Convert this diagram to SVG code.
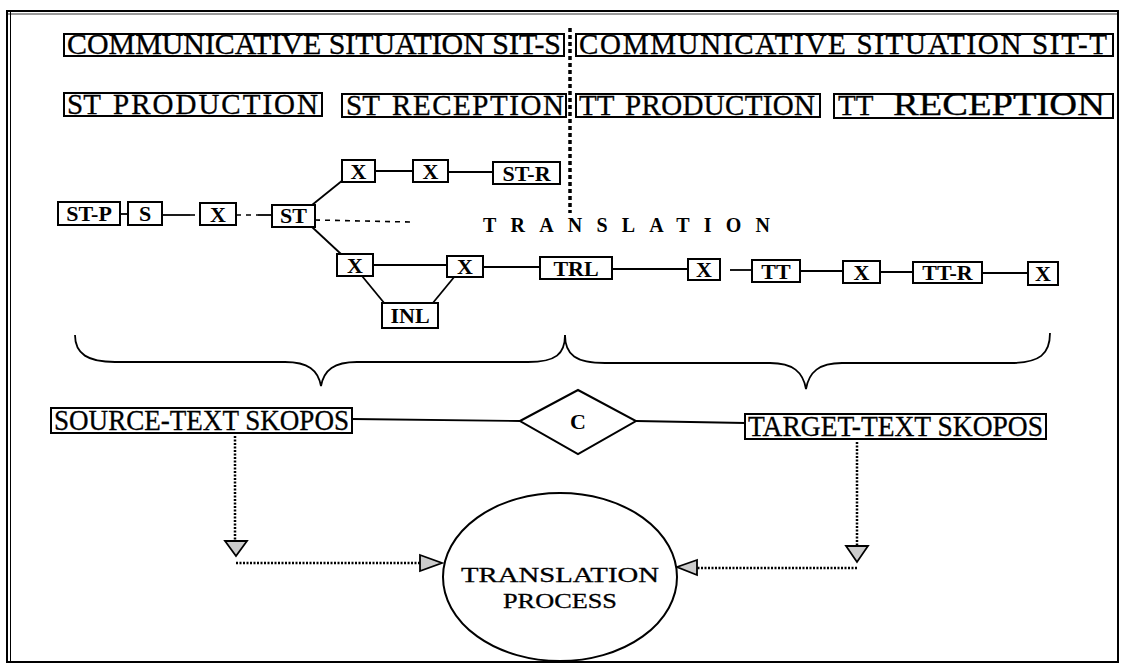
<svg xmlns="http://www.w3.org/2000/svg" width="1126" height="669" viewBox="0 0 1126 669">
<style>
.box{fill:#fff;stroke:#000;stroke-width:2}
.big{font-family:"Liberation Serif","Times New Roman",serif;font-size:29px;fill:#000;stroke:#000;stroke-width:0.3}
.lbl{font-family:"Liberation Serif","Times New Roman",serif;font-size:22px;font-weight:bold;fill:#000;text-anchor:middle}
.ln{stroke:#000;stroke-width:1.8;fill:none}
.dash{stroke:#000;stroke-width:1.6;fill:none;stroke-dasharray:5,5}
.dot{stroke:#000;stroke-width:2.5;fill:none;stroke-dasharray:2,1.5}
.vdot{stroke:#000;stroke-width:3.5;fill:none;stroke-dasharray:4,3}
.arr{fill:#ccc;stroke:#000;stroke-width:1.8}
.ell{font-family:"Liberation Serif","Times New Roman",serif;font-size:21px;fill:#000;stroke:#000;stroke-width:0.3;text-anchor:middle}
</style>
<rect x="0" y="0" width="1126" height="669" fill="#fff"/>
<g id="frame">
<rect x="7" y="11" width="1111" height="651" fill="none" stroke="#000" stroke-width="2"/>
<line x1="10.5" y1="11" x2="10.5" y2="662" stroke="#000" stroke-width="1"/>
<line x1="7" y1="14" x2="1118" y2="14" stroke="#000" stroke-width="0.8"/>
</g>
<g id="connectors">
<line class="vdot" x1="570" y1="28" x2="570" y2="213"/>
<line class="ln" x1="120" y1="214" x2="128" y2="214"/>
<line class="ln" x1="162" y1="215" x2="190" y2="215"/>
<line class="dash" x1="190" y1="215" x2="200" y2="215"/>
<line class="dash" x1="236" y1="215" x2="258" y2="215"/>
<line class="ln" x1="258" y1="215" x2="272" y2="215"/>
<line class="dash" x1="315" y1="220" x2="410" y2="222"/>
<line class="ln" x1="312" y1="205" x2="343" y2="180"/>
<line class="ln" x1="375" y1="171" x2="413" y2="171"/>
<line class="ln" x1="448" y1="172" x2="493" y2="172"/>
<line class="ln" x1="312" y1="227" x2="341" y2="254"/>
<line class="ln" x1="373" y1="265" x2="447" y2="265"/>
<line class="ln" x1="483" y1="267" x2="540" y2="267"/>
<line class="ln" x1="612" y1="269" x2="688" y2="269"/>
<line class="ln" x1="730" y1="270" x2="752" y2="270"/>
<line class="ln" x1="800" y1="271" x2="843" y2="271"/>
<line class="ln" x1="880" y1="272" x2="913" y2="272"/>
<line class="ln" x1="982" y1="273" x2="1028" y2="273"/>
<line class="ln" x1="362" y1="276" x2="385" y2="304"/>
<line class="ln" x1="432" y1="304" x2="455" y2="276"/>
<path class="ln" d="M75,335 C75,354 88,362 115,362 L285,362 C308,362 318,370 321,386 C324,370 334,362 357,362 L528,362 C556,362 565,354 565,335"/>
<path class="ln" d="M565,335 C565,355 576,363 605,363 L770,363 C793,363 803,372 806,389 C809,372 819,363 842,363 L1010,363 C1040,363 1050,354 1050,333"/>
<line class="ln" x1="352" y1="419" x2="520" y2="421"/>
<line class="ln" x1="636" y1="421" x2="745" y2="423"/>
<line class="dot" x1="235" y1="436" x2="235" y2="541"/>
<polygon class="arr" points="225,541 247,541 236,556"/>
<line class="dot" x1="236" y1="563" x2="420" y2="563"/>
<polygon class="arr" points="420,555 442,563 420,571"/>
<line class="dot" x1="857" y1="442" x2="857" y2="546"/>
<polygon class="arr" points="846,546 868,546 857,562"/>
<line class="dot" x1="857" y1="568" x2="697" y2="568"/>
<polygon class="arr" points="697,560 677,567 697,575"/>
</g>
<g id="sit-s"><rect class="box" x="64" y="34" width="500" height="22"/><text class="big" x="67" y="54" textLength="494" lengthAdjust="spacingAndGlyphs">COMMUNICATIVE SITUATION SIT-S</text></g>
<g id="sit-t"><rect class="box" x="576" y="34" width="537" height="22"/><text class="big" x="579" y="54" textLength="528" lengthAdjust="spacing">COMMUNICATIVE SITUATION SIT-T</text></g>
<g id="st-production"><rect class="box" x="64" y="93" width="258" height="23"/><text class="big" y="114"><tspan x="67">ST</tspan><tspan x="113" textLength="205" lengthAdjust="spacing">PRODUCTION</tspan></text></g>
<g id="st-reception"><rect class="box" x="342" y="94" width="224" height="23"/><text class="big" y="115"><tspan x="346">ST</tspan><tspan x="392" textLength="172" lengthAdjust="spacing">RECEPTION</tspan></text></g>
<g id="tt-production"><rect class="box" x="576" y="94" width="244" height="23"/><text class="big" y="115"><tspan x="579">TT</tspan><tspan x="625" textLength="190" lengthAdjust="spacing">PRODUCTION</tspan></text></g>
<g id="tt-reception"><rect class="box" x="834" y="94" width="279" height="24"/><text class="big" y="115"><tspan x="838">TT</tspan><tspan x="893" font-size="31" textLength="212" lengthAdjust="spacingAndGlyphs">RECEPTION</tspan></text></g>
<g id="st-p"><rect class="box" x="58" y="202" width="62" height="23"/><text class="lbl" x="89" y="221">ST-P</text></g>
<g id="s"><rect class="box" x="128" y="202" width="34" height="23"/><text class="lbl" x="145" y="221">S</text></g>
<g id="x1"><rect class="box" x="200" y="203" width="36" height="22"/><text class="lbl" x="218" y="222">X</text></g>
<g id="st"><rect class="box" x="272" y="205" width="43" height="22"/><text class="lbl" x="293.5" y="223">ST</text></g>
<g id="x-up1"><rect class="box" x="342" y="160" width="33" height="22"/><text class="lbl" x="358.5" y="179">X</text></g>
<g id="x-up2"><rect class="box" x="413" y="160" width="35" height="22"/><text class="lbl" x="430.5" y="179">X</text></g>
<g id="st-r"><rect class="box" x="493" y="162" width="67" height="22"/><text class="lbl" x="526.5" y="181">ST-R</text></g>
<g id="translation-label"><text x="483" y="232" font-family="Liberation Serif, serif" font-size="20" font-weight="bold" textLength="287" lengthAdjust="spacing">TRANSLATION</text></g>
<g id="x-lo1"><rect class="box" x="337" y="254" width="36" height="22"/><text class="lbl" x="355" y="273">X</text></g>
<g id="x-lo2"><rect class="box" x="447" y="256" width="36" height="21"/><text class="lbl" x="465" y="274">X</text></g>
<g id="inl"><rect class="box" x="382" y="303" width="56" height="25"/><text class="lbl" x="410" y="323">INL</text></g>
<g id="trl"><rect class="box" x="540" y="257" width="72" height="22"/><text class="lbl" x="576" y="276">TRL</text></g>
<g id="x-lo3"><rect class="box" x="688" y="259" width="32" height="21"/><text class="lbl" x="704" y="277">X</text></g>
<g id="tt"><rect class="box" x="752" y="260" width="48" height="22"/><text class="lbl" x="776" y="279">TT</text></g>
<g id="x-lo4"><rect class="box" x="843" y="261" width="37" height="22"/><text class="lbl" x="861.5" y="280">X</text></g>
<g id="tt-r"><rect class="box" x="913" y="262" width="69" height="21"/><text class="lbl" x="947.5" y="280">TT-R</text></g>
<g id="x-lo5"><rect class="box" x="1028" y="262" width="30" height="23"/><text class="lbl" x="1043" y="281">X</text></g>
<g id="source-skopos"><rect class="box" x="51" y="408" width="301" height="25"/><text class="big" x="54" y="430" textLength="295" lengthAdjust="spacingAndGlyphs">SOURCE-TEXT SKOPOS</text></g>
<g id="c"><polygon points="520,421 578,390 636,421 578,454" fill="#fff" stroke="#000" stroke-width="2"/><text class="lbl" x="578" y="429">C</text></g>
<g id="target-skopos"><rect class="box" x="745" y="414" width="301" height="25"/><text class="big" x="748" y="436" textLength="295" lengthAdjust="spacingAndGlyphs">TARGET-TEXT SKOPOS</text></g>
<g id="translation-process"><ellipse cx="560" cy="577" rx="117" ry="84" fill="#fff" stroke="#000" stroke-width="2"/><text class="ell" x="560" y="582" textLength="198" lengthAdjust="spacingAndGlyphs">TRANSLATION</text><text class="ell" x="560" y="608" textLength="114" lengthAdjust="spacingAndGlyphs">PROCESS</text></g>
</svg>
